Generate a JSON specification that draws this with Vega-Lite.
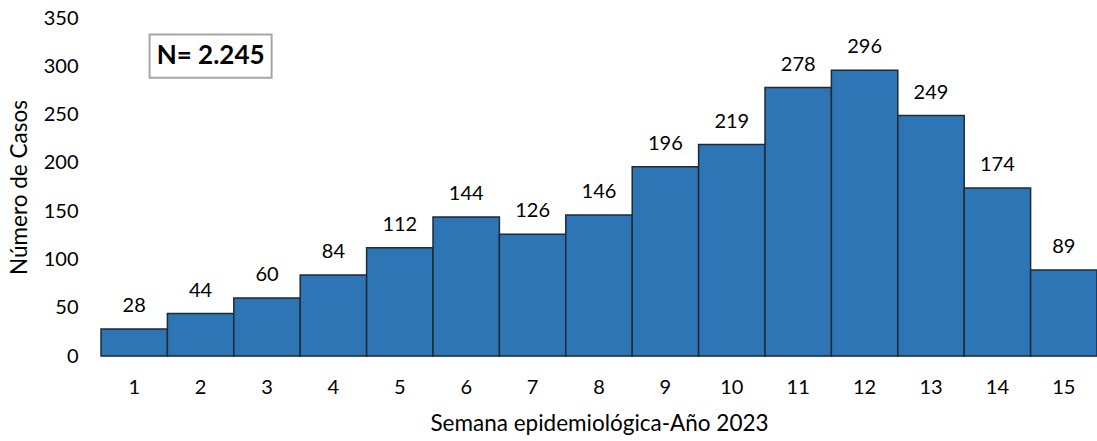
{
  "$schema": "https://vega.github.io/schema/vega-lite/v6.json",
  "autosize": "none",
  "width": 996,
  "height": 338,
  "padding": {"left": 101, "top": 18, "right": 0, "bottom": 85},
  "background": "white",
  "config": {"view": {"stroke": null}, "font": "Lato"},
  "data": {"values": [
    {"semana": "1", "casos": 28}, {"semana": "2", "casos": 44}, {"semana": "3", "casos": 60},
    {"semana": "4", "casos": 84}, {"semana": "5", "casos": 112}, {"semana": "6", "casos": 144},
    {"semana": "7", "casos": 126}, {"semana": "8", "casos": 146}, {"semana": "9", "casos": 196},
    {"semana": "10", "casos": 219}, {"semana": "11", "casos": 278}, {"semana": "12", "casos": 296},
    {"semana": "13", "casos": 249}, {"semana": "14", "casos": 174}, {"semana": "15", "casos": 89}
  ]},
  "layer": [
    {"mark": {"type": "bar", "color": "#2E75B6", "stroke": "#1f2a36", "strokeWidth": 1.5},
     "encoding": {
      "x": {"field": "semana", "type": "ordinal", "sort": null,
        "scale": {"paddingInner": 0, "paddingOuter": 0},
        "axis": {"title": "Semana epidemiológica-Año 2023", "labelAngle": 0, "labelFontSize": 20, "labelColor": "#000", "labelPadding": 21, "ticks": false,
          "domainColor": "#d9d9d9", "domainWidth": 1.5, "titleFontSize": 22.5, "titleFontWeight": "normal", "titleColor": "#000", "titlePadding": 15}},
      "y": {"field": "casos", "type": "quantitative",
        "scale": {"domain": [0, 350]},
        "axis": {"title": "Número de Casos", "values": [0, 50, 100, 150, 200, 250, 300, 350], "grid": false, "domain": false, "ticks": false,
          "labelFontSize": 20, "labelColor": "#000", "labelPadding": 23, "titleFontSize": 22.5, "titleFontWeight": "normal", "titleColor": "#000", "titleX": -82, "titleY": 169, "titleBaseline": "middle"}}
     }},
    {"mark": {"type": "text", "baseline": "bottom", "dy": -13, "fontSize": 20, "color": "#000"},
     "encoding": {
      "x": {"field": "semana", "type": "ordinal", "sort": null},
      "y": {"field": "casos", "type": "quantitative"},
      "text": {"field": "casos", "type": "quantitative"}}},
    {"data": {"values": [{"etiqueta": "N= 2.245"}]},
     "mark": {"type": "bar", "width": 122, "xOffset": 10, "fill": "white", "stroke": "#a6a6a6", "strokeWidth": 2},
     "encoding": {"x": {"datum": "2", "type": "ordinal"}, "y": {"datum": 288, "type": "quantitative"}, "y2": {"datum": 333}}},
    {"data": {"values": [{"etiqueta": "N= 2.245"}]},
     "mark": {"type": "text", "xOffset": 10, "fontSize": 26, "fontWeight": "bold", "color": "#000"},
     "encoding": {"x": {"datum": "2", "type": "ordinal"}, "y": {"datum": 310.5, "type": "quantitative"}, "text": {"field": "etiqueta", "type": "nominal"}}}
  ]
}
